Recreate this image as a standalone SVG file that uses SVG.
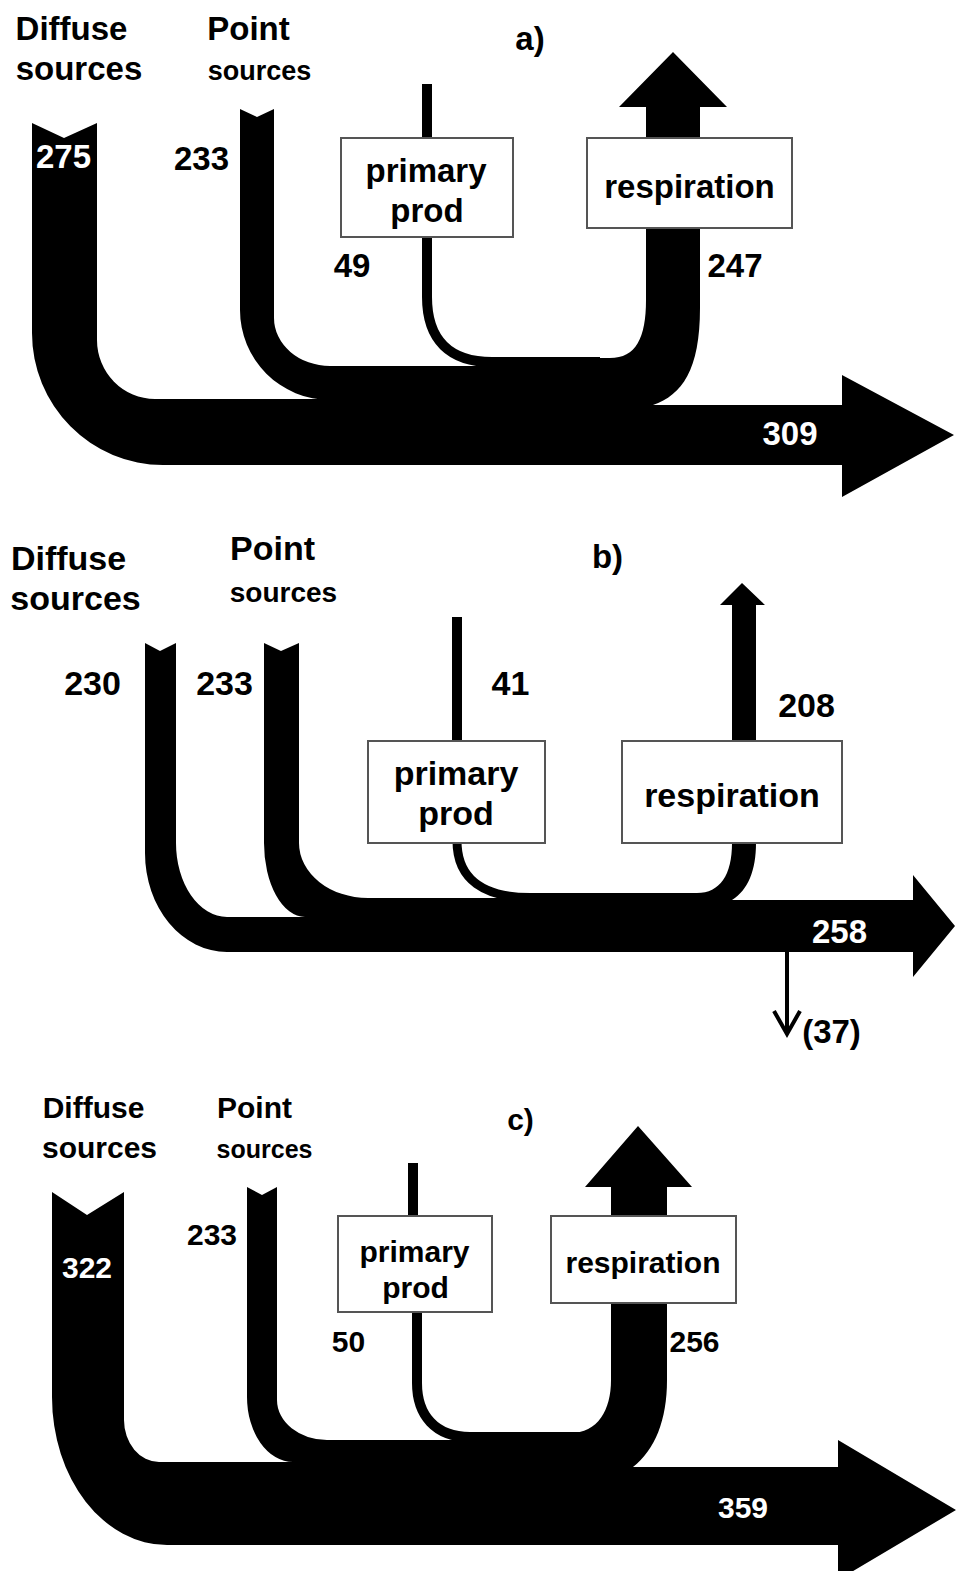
<svg xmlns="http://www.w3.org/2000/svg" width="956" height="1571" viewBox="0 0 956 1571">
<style>
  .band{fill:#000;stroke:none}
  .line{fill:none;stroke:#000}
  .box{fill:#fff;stroke:#555;stroke-width:2}
  text{font-family:"Liberation Sans",Arial,Helvetica,sans-serif;font-weight:bold;text-anchor:middle;fill:#000}
  .w{fill:#fff}
  .s33{font-size:33px}
  .s34{font-size:34px}
  .s30{font-size:30px}
  .s28{font-size:28px}
  .s27{font-size:27px}
  .s25{font-size:25px}
</style>
<rect x="0" y="0" width="956" height="1571" fill="#fff"/>

<!-- ============ Panel a ============ -->
<g id="connectors-a">
  <path class="band" d="M32,123 L64,138 L97,123 L97,340 A58,59 0 0 0 155,399 L480,399 L480,465 L163,465 A131,132 0 0 1 32,333 Z"/>
  <path class="band" d="M240,109 L257,117 L274,109 L274,318 A56,48 0 0 0 330,366 L490,366 L490,400 L330,400 A90,90 0 0 1 240,310 Z"/>
  <path class="line" stroke-width="10" d="M427,84 L427,140"/>
  <path class="line" stroke-width="10" d="M427,235 L427,297 C427,340 450,362 492,362 L600,362"/>
  <path class="band" d="M480,358 L610,358 C636,358 646,338 646,300 L646,107 L619,107 L673,52 L727,107 L700,107 L700,308 C700,370 682,395 653,405 L842,405 L842,375 L954,435 L842,497 L842,465 L480,465 Z"/>
</g>
<g id="diffuse-a">
  <text class="s33" x="71.5" y="40">Diffuse</text>
  <text class="s33" x="79" y="80">sources</text>
  <text class="s33 w" x="63.5" y="168">275</text>
</g>
<g id="point-a">
  <text class="s33" x="248.5" y="40">Point</text>
  <text class="s27" x="259.5" y="80">sources</text>
  <text class="s33" x="201.5" y="170">233</text>
</g>
<g id="title-a"><text class="s33" x="530" y="50">a)</text></g>
<g id="primary-a">
  <rect class="box" x="341" y="138" width="172" height="99"/>
  <text class="s33" x="426" y="182">primary</text>
  <text class="s33" x="427" y="222">prod</text>
  <text class="s33" x="352" y="277">49</text>
</g>
<g id="respiration-a">
  <rect class="box" x="587" y="138" width="205" height="90"/>
  <text class="s33" x="689.5" y="198">respiration</text>
  <text class="s33" x="735" y="277">247</text>
</g>
<g id="out-a"><text class="s33 w" x="790" y="445">309</text></g>

<!-- ============ Panel b ============ -->
<g id="connectors-b">
  <path class="band" d="M145,643 L160,651 L176,643 L176,843 A51,74 0 0 0 227,917 L500,917 L500,952 L227,952 A82,99 0 0 1 145,853 Z"/>
  <path class="band" d="M264,643 L281,651 L299,643 L299,843 A69,55 0 0 0 368,898 L540,898 L540,917 L305,917 A41,74 0 0 1 264,843 Z"/>
  <path class="line" stroke-width="10" d="M457,617 L457,743"/>
  <path class="line" stroke-width="9" d="M457,841 C457,880 485,897.5 530,897.5 L650,897.5"/>
  <path class="band" d="M500,893 L697,893 C720,893 732,875 732,843 L732,605 L720,605 L742,583 L765,605 L756,605 L756,843 C756,870 748,890 732,900 L913,900 L913,875 L955,926 L913,977 L913,952 L500,952 Z"/>
  <path class="line" stroke-width="4" d="M787,950 L787,1032"/>
  <path class="line" stroke-width="4" d="M774,1011 L787,1034 L800,1011"/>
</g>
<g id="diffuse-b">
  <text class="s34" x="68.5" y="570">Diffuse</text>
  <text class="s34" x="75.5" y="610">sources</text>
  <text class="s34" x="92.5" y="695">230</text>
</g>
<g id="point-b">
  <text class="s34" x="272.5" y="560">Point</text>
  <text class="s28" x="283.5" y="602">sources</text>
  <text class="s34" x="224.5" y="695">233</text>
</g>
<g id="title-b"><text class="s33" x="607.5" y="568">b)</text></g>
<g id="primary-b">
  <rect class="box" x="368" y="741" width="177" height="102"/>
  <text class="s34" x="456" y="785">primary</text>
  <text class="s34" x="456" y="825">prod</text>
  <text class="s34" x="510.5" y="695">41</text>
</g>
<g id="respiration-b">
  <rect class="box" x="622" y="741" width="220" height="102"/>
  <text class="s34" x="732" y="807">respiration</text>
  <text class="s34" x="806.5" y="717">208</text>
</g>
<g id="out-b">
  <text class="s33 w" x="839.5" y="943">258</text>
  <text class="s33" x="831.5" y="1043">(37)</text>
</g>

<!-- ============ Panel c ============ -->
<g id="connectors-c">
  <path class="band" d="M52,1192 L87,1215 L124,1192 L124,1420 A35,42 0 0 0 159,1462 L470,1462 L470,1545 L167,1545 A115,148 0 0 1 52,1397 Z"/>
  <path class="band" d="M247,1187 L262,1195 L277,1187 L277,1400 A50,40 0 0 0 327,1440 L480,1440 L480,1462 L293,1462 A46,65 0 0 1 247,1397 Z"/>
  <path class="line" stroke-width="10" d="M413,1163 L413,1218"/>
  <path class="line" stroke-width="10" d="M417,1310 L417,1383 C417,1415 435,1437 470,1437 L580,1437"/>
  <path class="band" d="M470,1433 L570,1433 C598,1433 611,1410 611,1380 L611,1187 L585,1187 L638,1126 L692,1187 L667,1187 L667,1380 C667,1420 655,1450 633,1467 L838,1467 L838,1440 L956,1510 L838,1580 L838,1545 L470,1545 Z"/>
</g>
<g id="diffuse-c">
  <text class="s30" x="93.5" y="1118">Diffuse</text>
  <text class="s30" x="99.5" y="1158">sources</text>
  <text class="s30 w" x="87" y="1278">322</text>
</g>
<g id="point-c">
  <text class="s30" x="254.5" y="1118">Point</text>
  <text class="s25" x="264.5" y="1158">sources</text>
  <text class="s30" x="212" y="1245">233</text>
</g>
<g id="title-c"><text class="s30" x="520.5" y="1130">c)</text></g>
<g id="primary-c">
  <rect class="box" x="338" y="1216" width="154" height="96"/>
  <text class="s30" x="414.5" y="1262">primary</text>
  <text class="s30" x="415.5" y="1298">prod</text>
  <text class="s30" x="348.5" y="1352">50</text>
</g>
<g id="respiration-c">
  <rect class="box" x="551" y="1216" width="185" height="87"/>
  <text class="s30" x="643" y="1273">respiration</text>
  <text class="s30" x="694.5" y="1352">256</text>
</g>
<g id="out-c"><text class="s30 w" x="743" y="1518">359</text></g>
</svg>
